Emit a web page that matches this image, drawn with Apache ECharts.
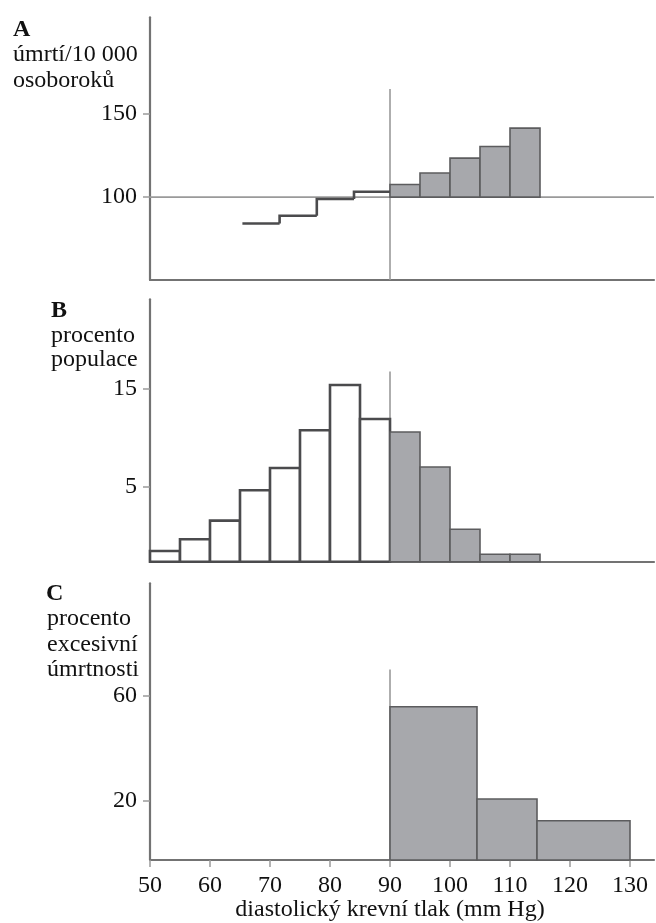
<!DOCTYPE html>
<html>
<head>
<meta charset="utf-8">
<script src="https://cdn.jsdelivr.net/npm/echarts@6/dist/echarts.min.js"></script>
<style>
  html, body { margin: 0; padding: 0; background: #fff; }
  #chart { width: 656px; height: 923px; }
</style>
</head>
<body>
<div id="chart"></div>
<script>
// Shared x axis: diastolic blood pressure (mm Hg)
const xTicks = [50, 60, 70, 80, 90, 100, 110, 120, 130];

// Panel A: deaths per 10 000 person-years
const stepEdgesA = [65.4, 71.6, 77.8, 84.0, 90];
const stepValuesA = [84.1, 88.7, 98.8, 103.2];
const barEdgesA = [90, 95, 100, 105, 110, 115];
const barValuesA = [107.6, 114.5, 123.5, 130.5, 141.6];
const yTicksA = [100, 150];
const refLevelA = 100;

// Panel B: percentage of the population
const binEdgesB = [50, 55, 60, 65, 70, 75, 80, 85, 90, 95, 100, 105, 110, 115];
const valuesB = [-1.58, -0.38, 1.52, 4.63, 6.91, 10.77, 15.41, 11.93, 10.6, 7.02, 0.64, -1.92, -1.92];
const yTicksB = [5, 15];

// Panel C: percentage of excess mortality
const binEdgesC = [90, 104.5, 114.5, 130];
const valuesC = [55.8, 20.5, 12.2];
const yTicksC = [20, 60];

const threshold = 90;

const SERIF = '"Liberation Serif", "Times New Roman", "DejaVu Serif", serif';
const FS = 24;
const FILL = '#a7a8ac';
const EDGE = '#5c5c5e';
const DARK = '#4b4b4d';
const AXIS = '#737373';
const REF = '#9a9a9a';
const TEXT = '#111111';

const X_MIN = 50, X_MAX = 134;
const ranges = [
  { min: 50, max: 208.4 },
  { min: -2.68, max: 24.18 },
  { min: -2.8, max: 103 }
];

const grids = [
  { left: 150, right: 2, top: 17.3, height: 262.7 },
  { left: 150, right: 2, top: 299.3, height: 262.4 },
  { left: 150, right: 2, top: 583.3, height: 276.7 }
];

function xAxisFor(i, showLabels) {
  return {
    type: 'value', gridIndex: i, min: X_MIN, max: X_MAX,
    axisLine: { show: true, onZero: false, lineStyle: { color: AXIS, width: 2.2 } },
    axisTick: showLabels
      ? { show: true, customValues: xTicks, length: 7, lineStyle: { color: REF, width: 1.5 } }
      : { show: false },
    axisLabel: showLabels
      ? { show: true, customValues: xTicks, margin: 14, color: TEXT, fontSize: FS, fontFamily: SERIF }
      : { show: false },
    splitLine: { show: false }
  };
}

function yAxisFor(i, ticks) {
  return {
    type: 'value', gridIndex: i, min: ranges[i].min, max: ranges[i].max,
    axisLine: { show: true, onZero: false, lineStyle: { color: AXIS, width: 2.2 } },
    axisTick: { show: true, customValues: ticks, length: 7, lineStyle: { color: REF, width: 1.5 } },
    axisLabel: { show: true, customValues: ticks, margin: 13, color: TEXT, fontSize: FS, fontFamily: SERIF },
    splitLine: { show: false }
  };
}

// Rectangles of a histogram; each item is [left edge, right edge, value]
function histogram(i, edges, values, base, styleFor, z) {
  return {
    type: 'custom', xAxisIndex: i, yAxisIndex: i, z: z || 3,
    encode: { x: [0, 1], y: 2 },
    data: values.map((v, k) => [edges[k], edges[k + 1], v]),
    renderItem: function (params, api) {
      const x0 = api.value(0), x1 = api.value(1), v = api.value(2);
      const p0 = api.coord([x0, v]);
      const p1 = api.coord([x1, base]);
      return {
        type: 'rect',
        shape: { x: p0[0], y: p0[1], width: p1[0] - p0[0], height: p1[1] - p0[1] },
        style: styleFor(x0)
      };
    }
  };
}

// Stepped line: horizontal run per bin plus a riser from the previous bin
function stepLine(i, edges, values) {
  return {
    type: 'custom', xAxisIndex: i, yAxisIndex: i, z: 4,
    encode: { x: [0, 1], y: 2 },
    data: values.map((v, k) => [edges[k], edges[k + 1], v]),
    renderItem: function (params, api) {
      const k = params.dataIndex;
      const x0 = api.value(0), x1 = api.value(1), v = api.value(2);
      const pts = [];
      if (k > 0) pts.push(api.coord([x0, values[k - 1]]));
      pts.push(api.coord([x0, v]));
      pts.push(api.coord([x1, v]));
      return {
        type: 'polyline',
        shape: { points: pts },
        style: { stroke: DARK, lineWidth: 2.6, fill: null, lineJoin: 'miter' }
      };
    }
  };
}

function refLine(i, points) {
  return {
    type: 'line', xAxisIndex: i, yAxisIndex: i, z: 1, silent: true,
    symbol: 'none', data: points,
    lineStyle: { color: REF, width: 1.6 }
  };
}

const font = FS + 'px ' + SERIF;
const boldFont = 'bold ' + FS + 'px ' + SERIF;

const option = {
  backgroundColor: '#ffffff',
  animation: false,
  grid: grids,
  xAxis: [xAxisFor(0, false), xAxisFor(1, false), xAxisFor(2, true)],
  yAxis: [yAxisFor(0, yTicksA), yAxisFor(1, yTicksB), yAxisFor(2, yTicksC)],
  series: [
    refLine(0, [[X_MIN, refLevelA], [X_MAX, refLevelA]]),
    refLine(0, [[threshold, ranges[0].min], [threshold, 165.2]]),
    stepLine(0, stepEdgesA, stepValuesA),
    histogram(0, barEdgesA, barValuesA, refLevelA,
      () => ({ fill: FILL, stroke: EDGE, lineWidth: 1.6 })),

    refLine(1, [[threshold, ranges[1].min], [threshold, 16.8]]),
    histogram(1, binEdgesB, valuesB, ranges[1].min,
      (x0) => x0 < threshold
        ? { fill: '#ffffff', stroke: DARK, lineWidth: 2.6 }
        : { fill: FILL, stroke: EDGE, lineWidth: 1.6 }),

    refLine(2, [[threshold, ranges[2].min], [threshold, 70]]),
    histogram(2, binEdgesC, valuesC, ranges[2].min,
      () => ({ fill: FILL, stroke: EDGE, lineWidth: 1.6 }))
  ],
  graphic: [
    { type: 'text', left: 13, top: 18, style: { text: 'A', font: boldFont, fill: TEXT } },
    { type: 'text', left: 13, top: 42, style: { text: 'úmrtí/10 000\nosoboroků', font: font, lineHeight: 25.5, fill: TEXT } },

    { type: 'text', left: 51, top: 299, style: { text: 'B', font: boldFont, fill: TEXT } },
    { type: 'text', left: 51, top: 323, style: { text: 'procento\npopulace', font: font, lineHeight: 24.5, fill: TEXT } },

    { type: 'text', left: 46, top: 582, style: { text: 'C', font: boldFont, fill: TEXT } },
    { type: 'text', left: 47, top: 606, style: { text: 'procento\nexcesivní\númrtnosti', font: font, lineHeight: 25.5, fill: TEXT } },

    { type: 'text', x: 390, y: 922, style: { text: 'diastolický krevní tlak (mm Hg)', font: font, fill: TEXT, align: 'center', verticalAlign: 'bottom' } }
  ]
};

const chart = echarts.init(document.getElementById('chart'), null, { renderer: 'canvas' });
chart.setOption(option);
</script>
</body>
</html>
